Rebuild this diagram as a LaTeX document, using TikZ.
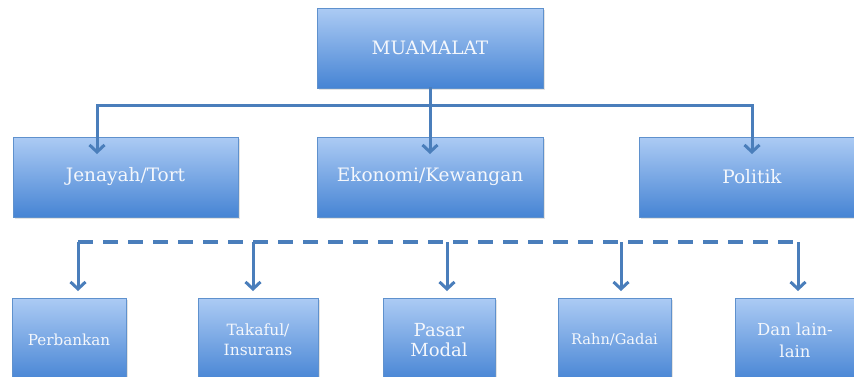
\documentclass[tikz,border=0pt]{standalone}
\usepackage{fontspec}
\setmainfont{DejaVu Serif}
\usetikzlibrary{arrows.meta,shadows}
\definecolor{lineblue}{RGB}{74,126,187}
\definecolor{boxtop}{RGB}{172,203,244}
\definecolor{boxbot}{RGB}{70,132,212}
\definecolor{boxedge}{RGB}{95,145,205}
\definecolor{boxtext}{RGB}{244,247,252}
\begin{document}
\begin{tikzpicture}[x=1pt,y=-1pt,
  box/.style={draw=boxedge, line width=0.6pt, top color=boxtop, bottom color=boxbot,
    text=boxtext, align=center, inner sep=0pt,
    drop shadow={opacity=0.22, shadow xshift=1.5pt, shadow yshift=-2pt}},
  topbox/.style={box, minimum width=226pt, minimum height=80pt,
    font=\fontsize{18.5}{22}\selectfont},
  botbox/.style={box, minimum height=84pt},
  conn/.style={draw=lineblue, line width=3pt, line cap=rect},
  dconn/.style={draw=lineblue, line width=3.5pt, dash pattern=on 15pt off 10pt},
  arr/.style={draw=lineblue, line width=3pt, -{Straight Barb[length=7pt,width=15pt]}}
]
\useasboundingbox (0,0) rectangle (854,376);
\fill[white] (0,0) rectangle (854,376);
\clip (0,0) rectangle (854,376);

% boxes
\node[topbox] (M) at (430,48) {MUAMALAT};
\node[topbox, minimum width=225pt] (J) at (125.5,177) {Jenayah/Tort};
\node[topbox] (E) at (430,177) {Ekonomi/Kewangan};
\node[topbox] (P) at (752,177) {Politik};

\node[botbox, minimum width=114pt, font=\fontsize{15.2}{18}\selectfont] (B1) at (69,340) {Perbankan};
\node[botbox, minimum width=120pt, font=\fontsize{15.5}{20}\selectfont] (B2) at (258,340) {Takaful/\\Insurans};
\node[botbox, minimum width=112pt, font=\fontsize{18}{20}\selectfont] (B3) at (439,340) {Pasar\\Modal};
\node[botbox, minimum width=113pt, font=\fontsize{14.6}{16}\selectfont] (B4) at (614.5,340) {Rahn/Gadai};
\node[botbox, minimum width=120pt, font=\fontsize{16.5}{22}\selectfont] (B5) at (795,340) {Dan lain-\\lain};

% top connectors
\coordinate (t0) at (430,105);
\coordinate (tl) at (97,105);
\coordinate (tr) at (752,105);
\coordinate (ja) at (97,154);
\coordinate (ea) at (430,154);
\coordinate (pa) at (752,154);
\draw[conn] (M.south) -- (t0);
\draw[conn] (tl) -- (tr);
\draw[arr] (tl) -- (ja);
\draw[arr] (t0) -- (ea);
\draw[arr] (tr) -- (pa);

% bottom connectors
\coordinate (bl) at (78,242);
\coordinate (b2) at (253,242);
\coordinate (b3) at (447,242);
\coordinate (b4) at (621,242);
\coordinate (br) at (798,242);
\coordinate (a1) at (78,291);
\coordinate (a2) at (253,291);
\coordinate (a3) at (447,291);
\coordinate (a4) at (621,291);
\coordinate (a5) at (798,291);
\draw[dconn] (bl) -- (br);
\draw[arr] (bl) -- (a1);
\draw[arr] (b2) -- (a2);
\draw[arr] (b3) -- (a3);
\draw[arr] (b4) -- (a4);
\draw[arr] (br) -- (a5);
\end{tikzpicture}
\end{document}
